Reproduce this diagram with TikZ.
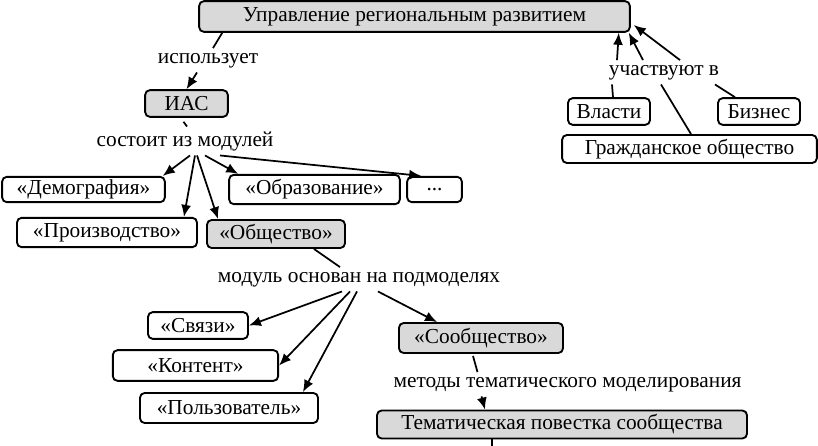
\documentclass[tikz,border=0pt]{standalone}
\usepackage{fontspec}
\setmainfont{Liberation Serif}
\usetikzlibrary{arrows.meta}
\usetikzlibrary{calc}
\tikzset{n/.style={draw,rounded corners=3.5pt,line width=1.4pt,minimum height=20pt,inner sep=1pt}}
\tikzset{g/.style={n,fill=black!15}}
\tikzset{l/.style={inner sep=3pt,anchor=base}}

\begin{document}
\begin{tikzpicture}[x=0.75pt,y=-0.75pt,line width=1.3pt,>={Latex[length=9pt,width=7.5pt]},
    font=\fontsize{16}{16}\selectfont]
        \useasboundingbox (0,0) rectangle (818,446);
        % boxes
        \node[g,minimum width=323pt,minimum height=23pt] (top) at (414.5,16.5) {Управление региональным развитием};
        \node[g,minimum width=62pt] (ias) at (186.5,103.5) {ИАС};
        \node[n,minimum width=122pt,minimum height=19pt] (dem) at (83.5,189.5) {«Демография»};
        \node[n,minimum width=128pt,minimum height=22pt] (edu) at (314.5,189.5) {«Образование»};
        \node[n,minimum width=41pt,minimum height=19pt] (dots) at (434.5,189.5) {...};
        \node[n,minimum width=135pt,minimum height=22pt] (prod) at (107,232.5) {«Производство»};
        \node[g,minimum width=103.5pt,minimum height=21pt] (soc) at (276,234) {«Общество»};
        \node[n,minimum width=75pt] (links) at (198,325.5) {«Связи»};
        \node[n,minimum width=124pt,minimum height=23pt] (cont) at (195.5,365.5) {«Контент»};
        \node[n,minimum width=133.5pt,minimum height=22.5pt] (user) at (229,408) {«Пользователь»};
        \node[g,minimum width=123pt,minimum height=22.5pt] (comm) at (481,338) {«Сообщество»};
        \node[g,minimum width=277.5pt,minimum height=21pt] (agenda) at (562,424.5) {Тематическая повестка сообщества};
        \node[n,minimum width=61.5pt] (gov) at (609,111.5) {Власти};
        \node[n,minimum width=61.5pt] (biz) at (759,111.5) {Бизнес};
        \node[n,minimum width=191pt,minimum height=21pt] (civ) at (689.5,149) {Гражданское общество};
        \coordinate (stub) at (492,452);
        % link labels
        \node[l] (uses) at (208,63) {использует};
        \node[l] (cons) at (185,146) {состоит из модулей};
        \node[l] (base) at (359,282) {модуль основан на подмоделях};
        \node[l] (meth) at (567.5,387) {методы тематического моделирования};
        \node[l] (part) at (664,75) {участвуют в};
        % connectors
        \draw ($(top.south west)+(24,0)$) -- ($(uses.north)+(5,0)$);
        \draw[->] ($(uses.south)+(-11,0)$) -- (ias.north);
        \draw ($(ias.south)+(-3,4)$) -- ($(cons.north)+(2,0)$);
        \path ($(cons.south)+(5,0)$) edge[->] ($(dem.north east)+(-3,0)$)
            ($(cons.south)+(10,0)$) edge[->] ($(prod.north east)+(-14,0)$)
            ($(cons.south)+(12,0)$) edge[->] ($(soc.north west)+(12,0)$)
            ($(cons.south)+(20,0)$) edge[->] ($(edu.north west)+(10,0)$)
            ($(cons.south)+(35,0)$) edge[->] ($(dots.north west)+(15,0)$);
        \draw ($(soc.south east)+(-32,0)$) -- ($(base.north)+(-19,0)$);
        \path ($(base.south)+(-17,0)$) edge[->] (links.east)
            ($(base.south)+(-9,0)$) edge[->] (cont.east)
            ($(base.south)+(-2,0)$) edge[->] ($(user.north east)+(-16,0)$)
            ($(base.south)+(19,0)$) edge[->] ($(comm.north west)+(39,0)$);
        \draw ($(comm.south)+(-8,2)$) -- ($(meth.north)+(-90,0)$);
        \draw[->] ($(meth.south)+(-86,0)$) -- ($(agenda.north)+(-77,0)$);
        \draw ($(agenda.south)+(-70,0)$) -- (stub);
        \draw ($(gov.north)+(4,0)$) -- ($(part.south)+(-52,0)$);
        \draw ($(civ.north)+(1.5,0)$) -- ($(part.south)+(-3,0)$);
        \draw ($(biz.north)+(-24,0)$) -- ($(part.south)+(51,0)$);
        \path ($(part.north)+(-47,0)$) edge[->] ($(top.south east)+(-12,0)$)
            ($(part.north)+(-21,0)$) edge[->] ($(top.south east)+(-2,0)$)
            ($(part.north)+(16,0)$) edge[->] ($(top.east)+(3,8.5)$);
\end{tikzpicture}
\end{document}
